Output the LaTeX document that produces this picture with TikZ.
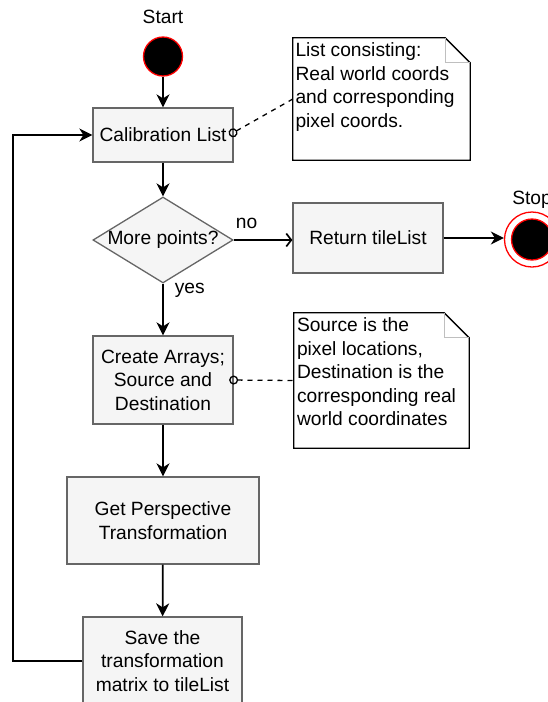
\documentclass[tikz,border=0pt]{standalone}
\usepackage{fontspec}
\setmainfont{Liberation Sans}
\usetikzlibrary{arrows.meta,shapes.geometric,calc}
\definecolor{boxfill}{HTML}{F5F5F5}
\definecolor{boxline}{HTML}{666666}
\begin{document}
\begin{tikzpicture}[x=1pt,y=-1pt,
  every node/.style={font=\fontsize{19.2pt}{23.5pt}\selectfont},
  procbox/.style={rectangle, draw=boxline, fill=boxfill, line width=1.3pt, align=center, inner sep=0pt},
  decision/.style={diamond, draw=boxline, fill=boxfill, line width=1.3pt, inner sep=0pt,
    shape aspect=1.63, minimum width=140pt, minimum height=86pt},
  startstate/.style={circle, draw=red, fill=black, line width=1.3pt, minimum size=39pt, inner sep=0pt},
  stopring/.style={circle, draw=red, fill=white, line width=1.3pt, minimum size=55pt, inner sep=0pt},
  stopdot/.style={circle, draw=red, fill=black, line width=1.3pt, minimum size=41pt, inner sep=0pt},
  notearea/.style={rectangle, inner sep=0pt},
  notebody/.style={draw=black, fill=white, line width=1.3pt, line join=miter},
  notefold/.style={draw=black!25, line width=1pt},
  notetext/.style={anchor=north west, align=left, inner sep=0pt},
  lbl/.style={inner sep=0pt},
  flow/.style={draw=black, line width=1.7pt, -{Stealth[length=13pt,width=13pt,inset=4pt]}},
  openflow/.style={draw=black, line width=1.7pt, -{Straight Barb[length=5pt,width=13pt]}},
  notelink/.style={draw=black, line width=1.3pt, dash pattern=on 5pt off 5pt,
    {Circle[open,length=9pt]}-}
]
\useasboundingbox (0,0) rectangle (548,702);

% states and process steps
\node[lbl] (startlbl) at (163,17) {Start};
\node[startstate] (start) at (163,56.5) {};
\node[procbox, minimum width=140pt, minimum height=54pt] (calib) at (163,135) {Calibration List};
\node[decision] (ask) at (163,240) {More points?};
\node[procbox, minimum width=150pt, minimum height=70pt] (ret) at (368,238) {Return tileList};
\node[stopring] (stop) at (532,239.5) {};
\node[stopdot] (stopin) at (stop.center) {};
\node[lbl] (stoplbl) at (532,200) {Stop};
\node[procbox, minimum width=140pt, minimum height=88pt] (arrays) at (163,380) {Create Arrays;\\Source and\\Destination};
\node[procbox, minimum width=192pt, minimum height=87pt] (persp) at (163,520.5) {Get Perspective\\Transformation};
\node[procbox, minimum width=159pt, minimum height=88pt] (save) at (162.5,661) {Save the\\transformation\\matrix to tileList};

% note about the calibration list
\node[notearea, minimum width=177pt, minimum height=122pt] (note1) at (381.5,99) {};
\path[notebody] (note1.north west) -- ([xshift=-25pt]note1.north east) -- ([yshift=-25pt]note1.north east)
  -- (note1.south east) -- (note1.south west) -- cycle;
\draw[notefold] ([xshift=-25pt]note1.north east) |- ([yshift=-25pt]note1.north east);
\node[notetext] (note1txt) at ([shift={(2.5pt,-4.8pt)}]note1.north west)
  {List consisting:\\Real world coords\\and corresponding\\pixel coords.};

% note about source and destination arrays
\node[notearea, minimum width=175pt, minimum height=135pt] (note2) at (381.5,380.5) {};
\path[notebody] (note2.north west) -- ([xshift=-25pt]note2.north east) -- ([yshift=-25pt]note2.north east)
  -- (note2.south east) -- (note2.south west) -- cycle;
\draw[notefold] ([xshift=-25pt]note2.north east) |- ([yshift=-25pt]note2.north east);
\node[notetext] (note2txt) at ([shift={(3pt,-4.8pt)}]note2.north west)
  {Source is the\\pixel locations,\\Destination is the\\corresponding real\\world coordinates};

% control flow
\draw[flow] (start) -- (calib);
\draw[flow] (calib) -- (ask);
\draw[openflow] (ask.east) -- (ask.east -| ret.west) node[lbl, pos=0.22, above=10pt] (nolbl) {no};
\draw[flow] (ret.east) -- (ret.east -| stop.west);
\draw[flow] (ask.south) -- (arrays.north) node[lbl, pos=0.13, right=11pt] (yeslbl) {yes};
\draw[flow] (arrays) -- (persp);
\draw[flow] (persp) -- (save);
\coordinate (loopx) at (13,0);
\draw[flow] (save.west) -- (save.west -| loopx) |- (calib.west);

% note attachments
\draw[notelink] ([xshift=-4.5pt]calib.east) -- (note1.west);
\draw[notelink] ([xshift=-4.5pt]arrays.east) -- (note2.west);
\end{tikzpicture}
\end{document}
